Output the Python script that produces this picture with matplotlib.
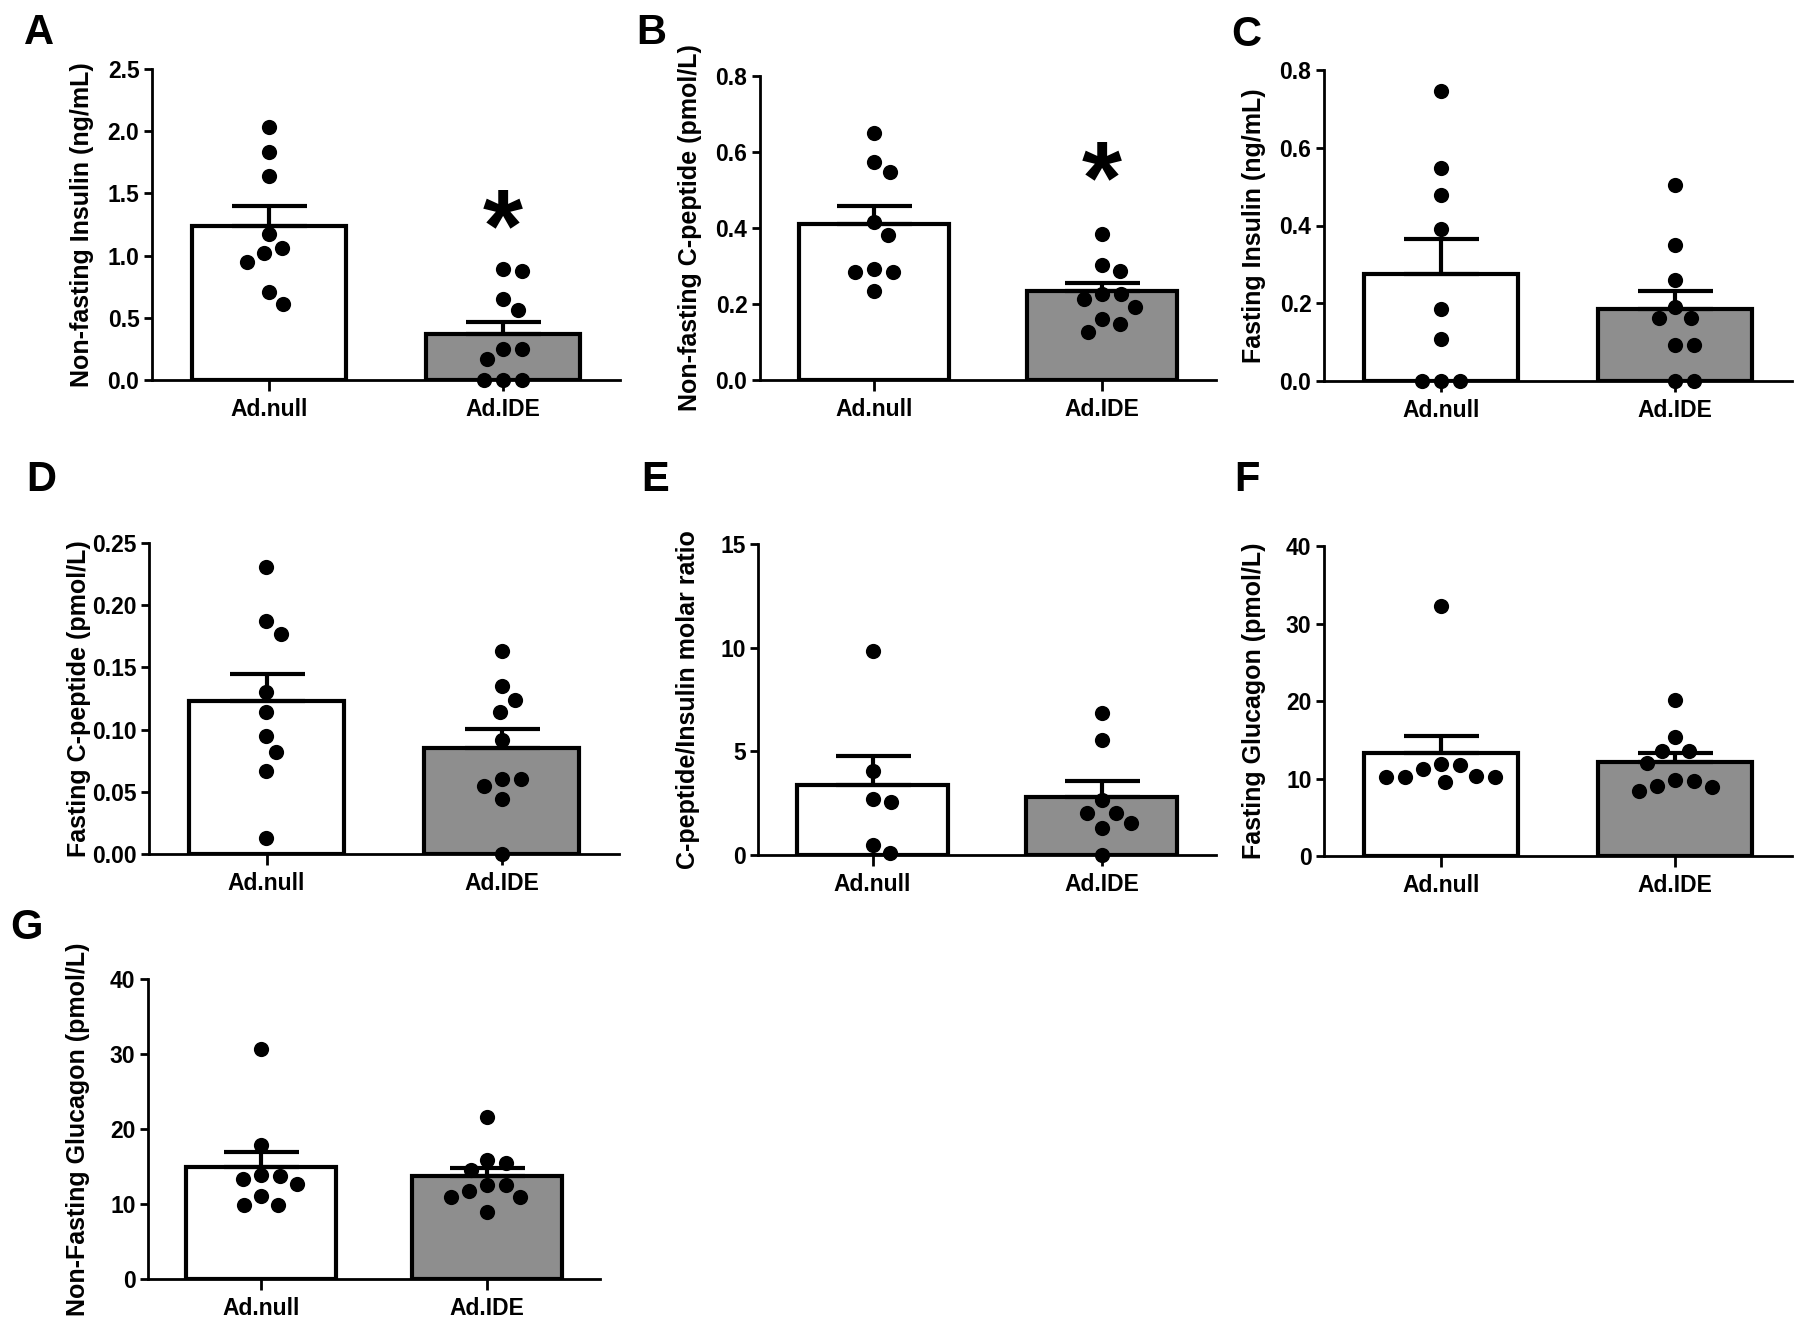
import numpy as np
import matplotlib.pyplot as plt

plt.rcParams['font.family'] = ['Liberation Sans', 'DejaVu Sans']

groups = ["Ad.null", "Ad.IDE"]

# A: non-fasting insulin
a_null = [2.03, 1.83, 1.64, 1.17, 1.06, 1.02, 0.95, 0.71, 0.61]
a_ide = [0.89, 0.88, 0.65, 0.56, 0.25, 0.25, 0.17, 0.0, 0.0, 0.0]
a_mean = [1.24, 0.37]
a_sem = [0.16, 0.10]

# B: non-fasting C-peptide
b_null = [0.65, 0.574, 0.547, 0.416, 0.382, 0.293, 0.285, 0.283, 0.233]
b_ide = [0.385, 0.302, 0.288, 0.227, 0.227, 0.214, 0.192, 0.161, 0.148, 0.126]
b_mean = [0.41, 0.233]
b_sem = [0.048, 0.022]

# C: fasting insulin
c_null = [0.747, 0.547, 0.478, 0.39, 0.184, 0.108, 0.0, 0.0, 0.0]
c_ide = [0.503, 0.349, 0.259, 0.19, 0.162, 0.162, 0.093, 0.093, 0.0, 0.0]
c_mean = [0.276, 0.184]
c_sem = [0.09, 0.047]

# D: fasting C-peptide
d_null = [0.231, 0.187, 0.177, 0.130, 0.114, 0.095, 0.082, 0.067, 0.013]
d_ide = [0.163, 0.135, 0.124, 0.114, 0.092, 0.060, 0.060, 0.055, 0.044, 0.0]
d_mean = [0.1228, 0.0855]
d_sem = [0.022, 0.015]

# E: C-peptide/insulin ratio
e_null = [9.84, 4.05, 2.70, 2.57, 0.48, 0.08]
e_ide = [6.83, 5.55, 2.65, 2.04, 2.04, 1.53, 1.32, 0.0]
e_mean = [3.38, 2.78]
e_sem = [1.39, 0.81]

# F: fasting glucagon
f_null = [32.3, 11.9, 11.7, 11.2, 10.3, 10.2, 10.2, 10.2, 9.5]
f_ide = [20.1, 15.3, 13.6, 13.5, 12.0, 9.8, 9.7, 9.0, 8.9, 8.4]
f_mean = [13.25, 12.17]
f_sem = [2.25, 1.08]

# G: non-fasting glucagon
g_null = [30.7, 17.9, 13.9, 13.7, 13.3, 12.7, 11.1, 9.9, 9.9]
g_ide = [21.6, 15.9, 15.5, 14.6, 12.6, 12.6, 11.8, 10.9, 10.9, 9.0]
g_mean = [14.93, 13.69]
g_sem = [2.07, 1.07]

W, H = 1800, 1321

panels = [
    dict(letter='A', pts=(a_null, a_ide), mean=a_mean, sem=a_sem,
         ylabel='Non-fasting Insulin (ng/mL)', ticks=np.arange(0, 2.51, 0.5), fmt='{:.1f}',
         star=1.36, box=(152, 620, 69, 380), lpos=(24, 13)),
    dict(letter='B', pts=(b_null, b_ide), mean=b_mean, sem=b_sem,
         ylabel='Non-fasting C-peptide (pmol/L)', ticks=np.arange(0, 0.81, 0.2), fmt='{:.1f}',
         star=0.57, box=(760, 1216, 76, 380), lpos=(636, 13)),
    dict(letter='C', pts=(c_null, c_ide), mean=c_mean, sem=c_sem,
         ylabel='Fasting Insulin (ng/mL)', ticks=np.arange(0, 0.81, 0.2), fmt='{:.1f}',
         star=None, box=(1324, 1792, 70, 381), lpos=(1231, 15)),
    dict(letter='D', pts=(d_null, d_ide), mean=d_mean, sem=d_sem,
         ylabel='Fasting C-peptide (pmol/L)', ticks=np.arange(0, 0.251, 0.05), fmt='{:.2f}',
         star=None, box=(149, 619, 543, 854), lpos=(26, 460)),
    dict(letter='E', pts=(e_null, e_ide), mean=e_mean, sem=e_sem,
         ylabel='C-peptide/Insulin molar ratio', ticks=np.arange(0, 16, 5), fmt='{:.0f}',
         star=None, box=(758, 1216, 544, 855), lpos=(641, 460)),
    dict(letter='F', pts=(f_null, f_ide), mean=f_mean, sem=f_sem,
         ylabel='Fasting Glucagon (pmol/L)', ticks=np.arange(0, 41, 10), fmt='{:.0f}',
         star=None, box=(1324, 1792, 546, 856), lpos=(1234, 460)),
    dict(letter='G', pts=(g_null, g_ide), mean=g_mean, sem=g_sem,
         ylabel='Non-Fasting Glucagon (pmol/L)', ticks=np.arange(0, 41, 10), fmt='{:.0f}',
         star=None, box=(148, 600, 979, 1279), lpos=(10, 908)),
]


def swarm(ax, xc, vals, gap):
    # push dots sideways (in pixels) until they stop overlapping
    placed = []
    xs = np.zeros(len(vals))
    inv = ax.transData.inverted()
    for i in np.argsort(vals)[::-1]:
        px, py = ax.transData.transform((xc, vals[i]))
        cands = [0.0]
        for ox, oy in placed:
            dy = py - oy
            if abs(dy) < gap:
                dx = np.sqrt(gap ** 2 - dy ** 2)
                cands += [ox + dx, ox - dx]
        cands.sort(key=lambda c: (round(abs(c), 3), -c))
        for c in cands:
            if all((c - ox) ** 2 + (py - oy) ** 2 >= gap ** 2 - 1e-6 for ox, oy in placed):
                break
        placed.append((c, py))
        xs[i] = inv.transform((px + c, py))[0]
    return xs


fig = plt.figure(figsize=(W / 100, H / 100), dpi=100)

for p in panels:
    x0, x1, y0, y1 = p['box']
    ax = fig.add_axes([x0 / W, 1 - y1 / H, (x1 - x0) / W, (y1 - y0) / H])
    ax.set_xlim(-0.5, 1.5)
    ax.set_ylim(0, p['ticks'][-1])

    ax.bar([0, 1], p['mean'], width=0.66, color=['white', '#8e8e8e'],
           edgecolor='black', linewidth=3, zorder=2)
    ax.errorbar([0, 1], p['mean'], yerr=[[0, 0], p['sem']], fmt='none',
                ecolor='black', elinewidth=3, capsize=27, capthick=3, zorder=3)
    for k, vals in enumerate(p['pts']):
        xs = swarm(ax, k, vals, 19)
        ax.scatter(xs, vals, s=120, color='black', linewidths=0, zorder=4, clip_on=False)

    if p['star'] is not None:
        ax.annotate('*', (1, p['star']), xytext=(0, -17), textcoords='offset points',
                    ha='center', va='center', fontsize=74, fontweight='bold', zorder=5)

    for s in ['top', 'right']:
        ax.spines[s].set_visible(False)
    for s in ['left', 'bottom']:
        ax.spines[s].set_linewidth(2)

    ax.set_yticks(p['ticks'])
    ax.set_yticklabels([p['fmt'].format(t) for t in p['ticks']], fontsize=16.5, fontweight='bold')
    ax.set_xticks([0, 1])
    ax.set_xticklabels(groups, fontsize=16.5, fontweight='bold')
    ax.tick_params(axis='y', length=6, width=2, pad=3)
    ax.tick_params(axis='x', length=8, width=2, pad=5)

    ax.set_ylabel(p['ylabel'], fontsize=18, fontweight='bold')
    ax.yaxis.set_label_coords(-58 / (x1 - x0), 0.5)

    lx, ly = p['lpos']
    fig.text(lx / W, 1 - ly / H, p['letter'], fontsize=30, fontweight='bold',
             ha='left', va='top')

fig.savefig('out.png', dpi=100)
